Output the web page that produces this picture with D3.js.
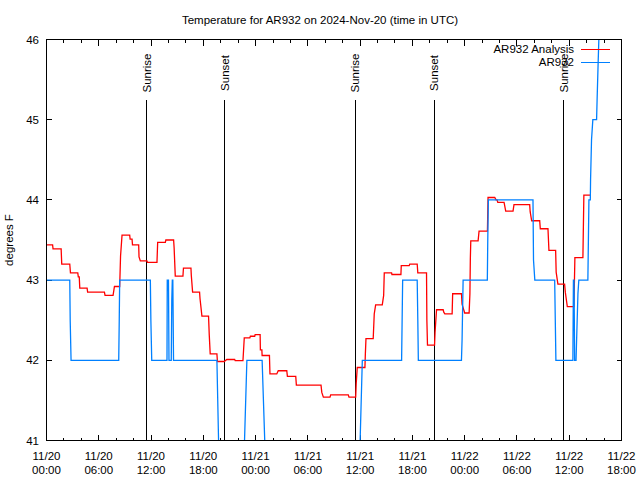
<!DOCTYPE html>
<html>
<head>
<meta charset="utf-8">
<script src="https://cdn.jsdelivr.net/npm/d3@7"></script>
<style>
  html, body { margin: 0; padding: 0; background: #fff; }
  svg { display: block; }
  text { font-family: "Liberation Sans", Arial, sans-serif; font-size: 11.5px; fill: #000; }
</style>
</head>
<body>
<script>
// ---- data (hours since 2024-11-20 00:00 UTC, degrees F) ----
const xTickHours = [0, 6, 12, 18, 24, 30, 36, 42, 48, 54, 60, 66];
const xTickDates = ["11/20","11/20","11/20","11/20","11/21","11/21","11/21","11/21","11/22","11/22","11/22","11/22"];
const xTickTimes = ["00:00","06:00","12:00","18:00","00:00","06:00","12:00","18:00","00:00","06:00","12:00","18:00"];
const yTicks = [41, 42, 43, 44, 45, 46];
const sunHours = [11.49, 20.43, 35.44, 44.49, 59.39];
const sunLabels = ["Sunrise", "Sunset", "Sunrise", "Sunset", "Sunrise"];
const seriesNames = ["AR932 Analysis", "AR932"];

const analysisSeries = [
  [0.0,43.44],[0.7,43.44],[0.75,43.39],
  [1.68,43.39],[1.75,43.20],
  [2.67,43.20],[2.75,43.09],
  [3.59,43.09],[3.65,43.04],[3.76,43.04],[3.82,42.90],
  [4.66,42.90],[4.72,42.85],
  [6.65,42.85],[6.72,42.81],
  [7.64,42.81],[7.8,42.92],
  [8.40,42.92],[8.5,43.3],[8.67,43.56],
  [9.55,43.56],[9.6,43.51],[9.82,43.51],[9.87,43.44],
  [10.58,43.44],[10.62,43.29],[10.77,43.24],
  [11.53,43.24],[11.6,43.22],
  [12.68,43.22],[12.76,43.47],
  [13.64,43.47],[13.7,43.50],
  [14.59,43.50],[14.65,43.40],[14.78,43.05],
  [15.66,43.05],[15.72,43.15],
  [16.58,43.15],[16.62,43.06],[16.77,42.85],
  [17.57,42.85],[17.62,42.77],[17.84,42.55],
  [18.60,42.55],[18.68,42.32],[18.79,42.08],
  [19.56,42.08],[19.62,41.985],
  [20.4,41.985],[20.7,42.01],
  [21.6,42.01],[21.66,41.995],
  [22.55,41.995],[22.7,42.28],
  [23.34,42.28],[23.4,42.30],[23.9,42.30],[23.95,42.32],
  [24.52,42.32],[24.55,42.13],[24.72,42.13],[24.75,42.06],
  [25.59,42.06],[25.65,41.83],
  [26.43,41.83],[26.6,41.87],
  [27.58,41.87],[27.65,41.80],
  [28.61,41.80],[28.68,41.69],
  [31.51,41.69],[31.6,41.6],[31.78,41.54],
  [32.54,41.54],[32.62,41.57],
  [34.64,41.57],[34.72,41.54],
  [35.49,41.54],[35.55,41.71],[35.67,41.91],
  [36.55,41.91],[36.6,42.08],[36.67,42.27],
  [37.5,42.27],[37.62,42.58],[37.78,42.69],
  [38.54,42.69],[38.7,42.81],[38.77,43.09],
  [39.61,43.09],[39.65,43.07],
  [40.68,43.07],[40.72,43.18],
  [41.63,43.18],[41.7,43.20],
  [42.55,43.20],[42.62,43.09],
  [43.62,43.09],[43.66,42.5],[43.73,42.19],
  [44.54,42.19],[44.6,42.35],[44.77,42.63],
  [45.53,42.63],[45.6,42.6],[45.72,42.58],
  [46.56,42.58],[46.62,42.83],
  [47.63,42.83],[47.7,42.7],[48.0,42.59],
  [48.51,42.59],[48.6,42.83],[48.65,43.27],[48.7,43.49],
  [49.54,43.49],[49.65,43.61],
  [50.61,43.61],[50.68,44.03],
  [51.45,44.03],[51.6,44.0],
  [51.71,44.0],[51.8,43.97],
  [52.52,43.97],[52.71,43.86],
  [53.55,43.86],[53.66,43.94],
  [55.46,43.94],[55.52,43.85],[55.69,43.74],
  [56.61,43.74],[56.68,43.64],
  [57.56,43.64],[57.67,43.37],
  [58.44,43.37],[58.5,43.1],[58.7,42.95],
  [59.47,42.95],[59.55,42.85],[59.78,42.67],
  [60.54,42.67],[60.65,43.28],
  [61.57,43.28],[61.68,44.06],
  [62.45,44.06]
];

const stationSeries = [
  [0.0,43.0],[2.67,43.0],[2.72,42.5],[2.82,42.0],
  [8.29,42.0],[8.35,42.5],[8.4,43.0],
  [11.92,43.0],[11.98,42.5],[12.08,42.0],
  [13.83,42.0],[13.86,43.0],[14.0,43.0],[14.06,42.0],
  [14.32,42.0],[14.38,42.75],[14.44,43.0],[14.5,43.0],[14.58,42.0],
  [19.56,42.0],[19.75,41.0],[19.95,40.0],
  [22.46,40.0],[23.0,42.0],
  [24.75,42.0],[25.05,41.0],[25.35,40.0],
  [35.75,40.0],[36.25,42.0],
  [40.76,42.0],[40.82,42.5],[40.88,43.0],
  [42.55,43.0],[42.62,42.5],[42.68,42.0],
  [47.63,42.0],[47.7,42.25],[47.82,43.0],
  [50.6,43.0],[50.65,43.5],[50.72,44.0],
  [55.84,44.0],[55.9,43.25],[56.05,43.0],
  [58.33,43.0],[58.4,42.5],[58.47,42.0],
  [60.42,42.0],[60.48,43.0],[60.55,43.0],[60.62,42.0],[60.78,42.0],[61.0,42.83],[61.1,43.0],
  [62.14,43.0],[62.26,44.0],[62.42,44.0],[62.45,44.25],[62.56,44.75],[62.71,45.0],
  [63.14,45.0],[63.2,45.25],[63.33,45.75],[63.4,46.0],[63.5,46.3]
];

const colors = ["#ff0000", "#0080ff"];

// ---- layout ----
const W = 640, H = 480;
const L = 46.5, R = 621.5, T = 39.5, B = 440.5;

const svg = d3.select("body").append("svg").attr("width", W).attr("height", H);
svg.append("rect").attr("width", W).attr("height", H).attr("fill", "#fff");

const x = d3.scaleLinear().domain([0, 66]).range([L, R]);
const y = d3.scaleLinear().domain([41, 46]).range([B, T]);

svg.append("defs").append("clipPath").attr("id", "clip")
  .append("rect").attr("x", L).attr("y", T).attr("width", R - L).attr("height", B - T);

// ticks (inward, mirrored)
const minorHours = d3.range(0, 67, 2).filter(h => h % 6 !== 0);
const tickG = svg.append("g").attr("stroke", "#000").attr("stroke-width", 1).attr("shape-rendering", "crispEdges");
xTickHours.forEach(h => {
  tickG.append("line").attr("x1", x(h)).attr("x2", x(h)).attr("y1", B).attr("y2", B - 6);
  tickG.append("line").attr("x1", x(h)).attr("x2", x(h)).attr("y1", T).attr("y2", T + 6);
});
minorHours.forEach(h => {
  tickG.append("line").attr("x1", x(h)).attr("x2", x(h)).attr("y1", B).attr("y2", B - 3);
  tickG.append("line").attr("x1", x(h)).attr("x2", x(h)).attr("y1", T).attr("y2", T + 3);
});
yTicks.forEach(v => {
  tickG.append("line").attr("x1", L).attr("x2", L + 5).attr("y1", y(v)).attr("y2", y(v));
  tickG.append("line").attr("x1", R).attr("x2", R - 5).attr("y1", y(v)).attr("y2", y(v));
});

// y tick labels
svg.append("g").selectAll("text").data(yTicks).join("text")
  .attr("x", 39).attr("y", d => y(d)).attr("dy", "0.36em")
  .attr("text-anchor", "end").text(d => d);

// x tick labels
const xl = svg.append("g").selectAll("text").data(xTickHours).join("text")
  .attr("text-anchor", "middle");
xl.append("tspan").attr("x", d => x(d)).attr("y", 460).text((d, i) => xTickDates[i]);
xl.append("tspan").attr("x", d => x(d)).attr("y", 474).text((d, i) => xTickTimes[i]);

// y axis title
svg.append("text").attr("transform", "translate(13," + ((T + B) / 2) + ") rotate(-90)")
  .attr("text-anchor", "middle").text("degrees F");

// title
svg.append("text").attr("x", 320).attr("y", 24).attr("text-anchor", "middle")
  .text("Temperature for AR932 on 2024-Nov-20 (time in UTC)");

// sunrise / sunset lines
const sun = svg.append("g");
sunHours.forEach((h, i) => {
  sun.append("line").attr("x1", x(h)).attr("x2", x(h)).attr("y1", 99.5).attr("y2", B)
    .attr("stroke", "#000").attr("stroke-width", 1).attr("shape-rendering", "crispEdges");
  sun.append("text").attr("transform", "translate(" + x(h) + ",73) rotate(-90)")
    .attr("text-anchor", "middle").attr("dy", "0.36em").text(sunLabels[i]);
});

// data lines
const line = d3.line().x(d => x(d[0])).y(d => y(d[1]));
const dataG = svg.append("g").attr("clip-path", "url(#clip)");
[analysisSeries, stationSeries].forEach((s, i) => {
  dataG.append("path").datum(s).attr("d", line)
    .attr("fill", "none").attr("stroke", colors[i]).attr("stroke-width", 1.3)
    .attr("stroke-linejoin", "miter");
});

// legend
seriesNames.forEach((n, i) => {
  const ly = 49 + i * 13;
  svg.append("text").attr("x", 574).attr("y", ly).attr("dy", "0.36em")
    .attr("text-anchor", "end").text(n);
  svg.append("line").attr("x1", 581).attr("x2", 610).attr("y1", ly + 0.5).attr("y2", ly + 0.5)
    .attr("stroke", colors[i]).attr("stroke-width", 1).attr("shape-rendering", "crispEdges");
});

// border
svg.append("rect").attr("x", L).attr("y", T).attr("width", R - L).attr("height", B - T)
  .attr("fill", "none").attr("stroke", "#000").attr("stroke-width", 1).attr("shape-rendering", "crispEdges");
</script>
</body>
</html>
